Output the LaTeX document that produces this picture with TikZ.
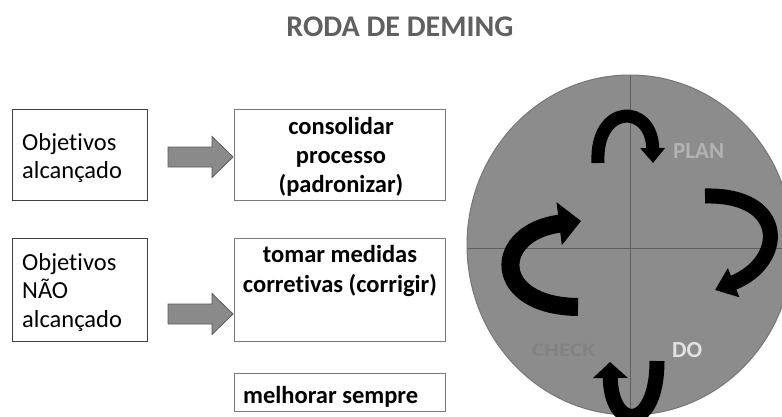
\documentclass[tikz,border=0pt]{standalone}
\usepackage{fontspec}
\setmainfont{Carlito}[Ligatures=CommonOff]
\usetikzlibrary{arrows.meta,calc}
\definecolor{wheelfill}{HTML}{8C8C8C}
\definecolor{wheeledge}{HTML}{767676}
\definecolor{wheelline}{HTML}{5E5E5E}
\definecolor{titlegrey}{HTML}{606060}
\definecolor{boxdark}{HTML}{404040}
\definecolor{boxlight}{HTML}{7A7A7A}
\definecolor{arrowfill}{HTML}{8A8A8A}
\definecolor{arrowedge}{HTML}{5A5A5A}
\definecolor{plangrey}{HTML}{B2B2B2}
\definecolor{dogrey}{HTML}{E2E2E2}
\definecolor{checkgrey}{HTML}{828282}
\tikzset{
  leftbox/.style={draw=boxdark, line width=0.9pt, minimum width=135pt, inner sep=0pt},
  rightbox/.style={draw=boxlight, line width=0.9pt, minimum width=211pt, inner sep=0pt},
  plaintext/.style={font=\fontsize{24.5}{28}\selectfont, align=left, inner sep=0pt, anchor=base west},
  boldtext/.style={font=\fontsize{24.5}{29}\selectfont\bfseries, align=center, inner sep=0pt, anchor=base},
  blockarrow/.style={fill=arrowfill, draw=arrowedge, line width=0.8pt, line join=miter},
  curvedarrow/.style={line width=#1, black, line cap=butt},
  wheeltext/.style={font=\fontsize{23}{26}\selectfont\bfseries, inner sep=0pt, anchor=base west}
}
\begin{document}
\begin{tikzpicture}[x=1pt,y=-1pt]
\useasboundingbox (0,0) rectangle (782,416);
\fill[white] (0,0) rectangle (782,416);

% title
\node[font=\fontsize{30}{34}\selectfont\bfseries, text=titlegrey, inner sep=0pt, anchor=base] (title) at (400,36) {RODA DE DEMING};

% boxes
\node[leftbox, minimum height=91pt] (b1) at (79.5,154.5) {};
\node[rightbox, minimum height=91pt] (b2) at (339.5,154.5) {};
\node[leftbox, minimum height=103pt] (b3) at (79.5,289.5) {};
\node[rightbox, minimum height=103pt] (b4) at (339.5,289.5) {};
\node[rightbox, minimum height=38pt] (b5) at (339.5,392) {};

% box texts
\node[plaintext] (t1a) at (22,150) {Objetivos};
\node[plaintext] (t1b) at (22,178) {alcançado};
\node[plaintext] (t3a) at (22,270) {Objetivos};
\node[plaintext] (t3b) at (22,298) {NÃO};
\node[plaintext] (t3c) at (22,327) {alcançado};
\node[boldtext] (t2a) at (341,134) {consolidar};
\node[boldtext] (t2b) at (341,163) {processo};
\node[boldtext] (t2c) at (341,192) {(padronizar)};
\node[boldtext] (t4a) at (340,262) {tomar medidas};
\node[boldtext] (t4b) at (340,292) {corretivas (corrigir)};
\node[boldtext, anchor=base west] (t5) at (243,403) {melhorar sempre};

% block arrows
\coordinate (a1s) at (168,157);
\coordinate (a1e) at (233,157);
\coordinate (a2s) at (168,314);
\coordinate (a2e) at (233,314);
\draw[blockarrow] ($(a1s)+(0,-10)$) -- ($(a1e)+(-21,-10)$) -- ($(a1e)+(-21,-20.5)$) -- (a1e)
  -- ($(a1e)+(-21,20.5)$) -- ($(a1e)+(-21,10)$) -- ($(a1s)+(0,10)$) -- cycle;
\draw[blockarrow] ($(a2s)+(0,-10)$) -- ($(a2e)+(-21,-10)$) -- ($(a2e)+(-21,-20.5)$) -- (a2e)
  -- ($(a2e)+(-21,20.5)$) -- ($(a2e)+(-21,10)$) -- ($(a2s)+(0,10)$) -- cycle;

% wheel
\coordinate (wc) at (630,245);
\fill[wheelfill] (wc) ellipse [x radius=163, y radius=170];
\begin{scope}
  \clip (wc) ellipse [x radius=163, y radius=170];
  \draw[wheelline, line width=1pt] (630,60) -- (630,430);
  \draw[wheelline, line width=1pt] (450,248) -- (800,248);
\end{scope}
\draw[wheeledge, line width=1pt] (wc) ellipse [x radius=163, y radius=170];

% wheel labels
\node[wheeltext, text=plangrey] (plan) at (673,158) {PLAN};
\node[wheeltext, text=dogrey] (do) at (672,357) {DO};
\node[wheeltext, text=checkgrey, font=\fontsize{19}{22}\selectfont\bfseries] (check) at (532,356) {\scalebox{1.22}[1]{CHECK}};

% curved arrows
\draw[curvedarrow=13pt, -{Triangle[width=24pt,length=15pt]}]
  (598,163) .. controls (595,103) and (652,103) .. (653,163);
\draw[curvedarrow=15pt, -{Triangle[width=30pt,length=20pt]}]
  (705,196) .. controls (788,194) and (786,262) .. (715,290);
\draw[curvedarrow=18pt, -{Triangle[width=42pt,length=22pt]}]
  (578,307) .. controls (490,306) and (492,232) .. (581,221);
\draw[curvedarrow=15pt, -{Triangle[width=34pt,length=16pt]}]
  (657,361) .. controls (657,432) and (611,432) .. (610,362);
\end{tikzpicture}
\end{document}
